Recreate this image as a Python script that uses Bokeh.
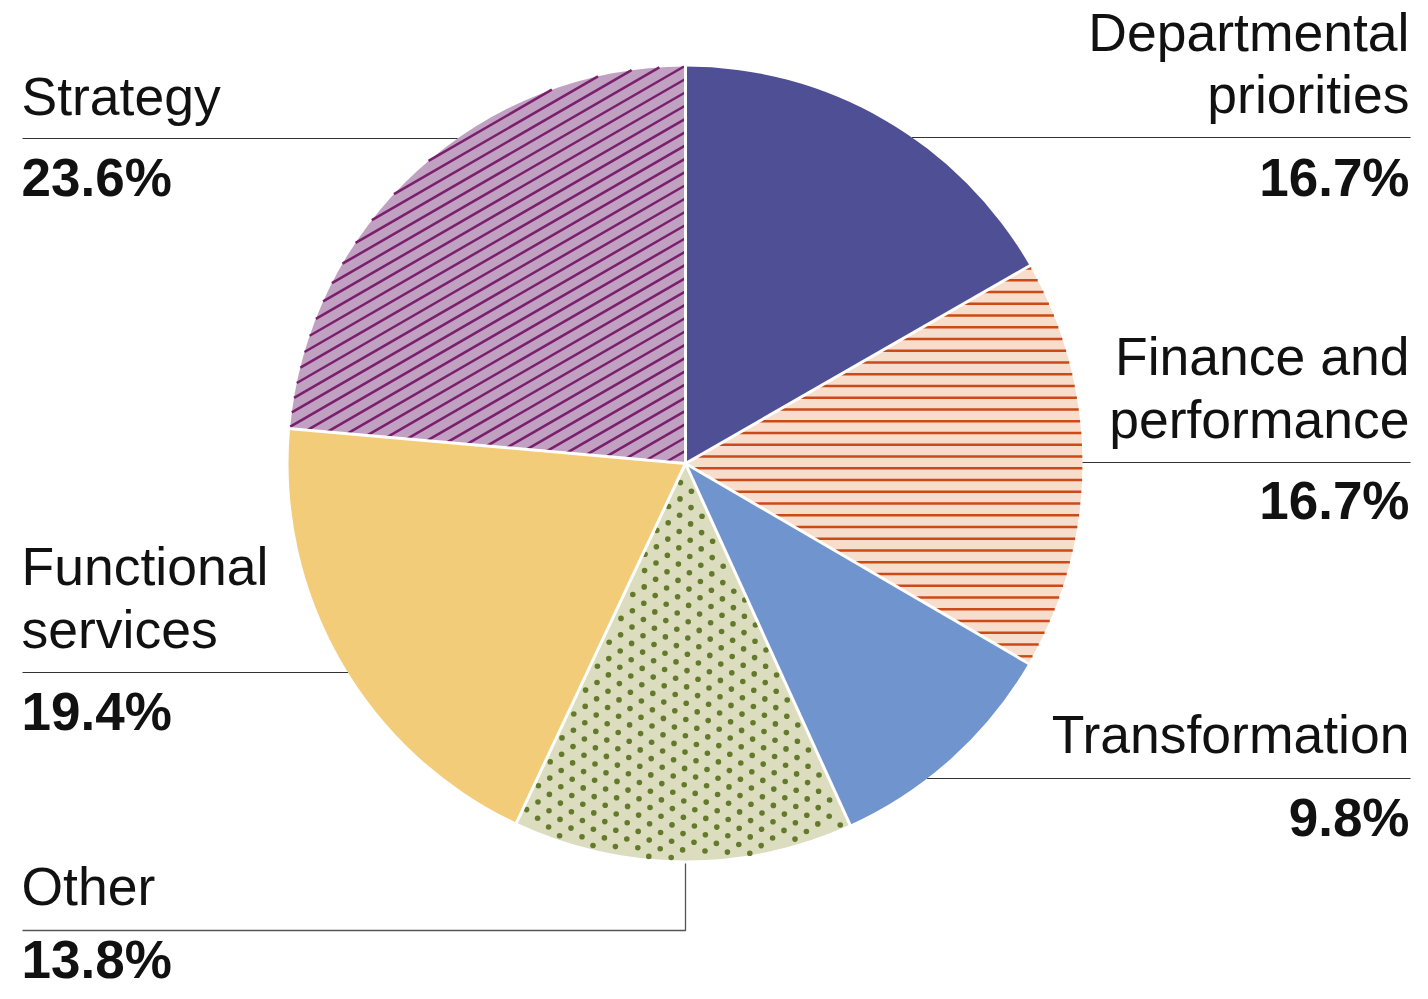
import numpy as np
from bokeh.plotting import figure
from bokeh.models import Range1d
from bokeh.embed import file_html
from bokeh.resources import INLINE
from bokeh.core.properties import value

# ---------------- data ----------------
categories = ["Departmental priorities", "Finance and performance", "Transformation",
              "Other", "Functional services", "Strategy"]
label_lines = [["Departmental", "priorities"], ["Finance and", "performance"], ["Transformation"],
               ["Other"], ["Functional", "services"], ["Strategy"]]
shares = [16.7, 16.7, 9.8, 13.8, 19.4, 23.6]
value_labels = [f"{v:.1f}%" for v in shares]

# ---------------- styles ----------------
fills = ["#4E4F95", "#F7DDCC", "#7095CE", "#DCDCBF", "#F3CC7A", "#C1A1C2"]
patterns = [None, "hline", None, "dots", None, "diag"]
pattern_colors = [None, "#CC4A17", None, "#627A2A", None, "#7A1F6B"]

# layout (image pixel coordinates, y downward)
side = ["R", "R", "R", "L", "L", "L"]
label_baselines = [[53, 115], [377, 440], [755], [907], [587, 650], [117]]
rule_y = [137, 462, 778, 930, 672, 138]
value_baseline = [198, 521, 838, 980, 732, 198]
LEFT_X, RIGHT_X = 22, 1409
LABEL_PX, VALUE_PX = 53.5, 53.0
BASE_FIX = 0.39   # empirical correction of the svg text baseline

W, H = 1412, 983
IMG_H = 999


def Y(yimg):
    return IMG_H - yimg


CX, CY_IMG, R = 685.0, 463.0, 397.0
CY = Y(CY_IMG)

p = figure(width=W, height=H, output_backend="svg", toolbar_location=None,
           x_range=Range1d(0, W), y_range=Range1d(IMG_H - H, IMG_H),
           min_border=0, x_axis_location=None, y_axis_location=None)
p.outline_line_color = None
p.xgrid.visible = False
p.ygrid.visible = False
p.background_fill_color = "white"
p.border_fill_color = "white"

fr = np.array(shares) / sum(shares)
cum = np.concatenate([[0.0], np.cumsum(fr)])
a0 = 2 * np.pi * cum[:-1]   # clockwise from 12 o'clock
a1 = 2 * np.pi * cum[1:]

p.wedge(x=[CX] * len(shares), y=[CY] * len(shares), radius=R,
        start_angle=list(np.pi / 2 - a0), end_angle=list(np.pi / 2 - a1),
        direction="clock", fill_color=fills, line_color=None)


def theta(x, y):
    return np.mod(np.pi / 2 - np.arctan2(y - CY, x - CX), 2 * np.pi)


def inside(x, y, s, e, margin=0.0):
    r = np.hypot(x - CX, y - CY)
    th = theta(x, y)
    rr = np.maximum(r, 1e-6)
    return (r <= R - margin) & (th >= s + margin / rr) & (th <= e - margin / rr)


def clip_family(direction, normal, offsets, s, e):
    d = np.array(direction, float)
    d /= np.linalg.norm(d)
    n = np.array(normal, float)
    n /= np.linalg.norm(n)
    t = np.arange(-R - 5, R + 5, 0.2)
    x0s, y0s, x1s, y1s = [], [], [], []
    for c in offsets:
        px = CX + c * n[0] + t * d[0]
        py = CY + c * n[1] + t * d[1]
        m = inside(px, py, s, e)
        if m.sum() < 2:
            continue
        idx = np.where(m)[0]
        x0s.append(px[idx[0]]); y0s.append(py[idx[0]])
        x1s.append(px[idx[-1]]); y1s.append(py[idx[-1]])
    return x0s, y0s, x1s, y1s


for i, pat in enumerate(patterns):
    s, e = a0[i], a1[i]
    if pat == "hline":
        spacing = 11.75
        ref = Y(350.3) - CY
        ks = np.arange(-40, 41)
        offs = ref + ks * spacing
        offs = offs[np.abs(offs) < R]
        x0, y0, x1, y1 = clip_family((1, 0), (0, 1), offs, s, e)
        p.segment(x0=x0, y0=y0, x1=x1, y1=y1, line_color=pattern_colors[i], line_width=2.4)
    elif pat == "diag":
        ang = np.deg2rad(30)
        d = (np.cos(ang), np.sin(ang))
        n = (-np.sin(ang), np.cos(ang))
        refx, refy = 291.7, Y(425.0)
        ref = (refx - CX) * n[0] + (refy - CY) * n[1]
        spacing = 11.5
        ks = np.arange(-80, 81)
        offs = ref + ks * spacing
        offs = offs[np.abs(offs) < R]
        x0, y0, x1, y1 = clip_family(d, n, offs, s, e)
        p.segment(x0=x0, y0=y0, x1=x1, y1=y1, line_color=pattern_colors[i], line_width=2.5)
    elif pat == "dots":
        ax, ay = 22.4, -1.1
        bx, by = 11.0, -8.7
        ox, oy = 643.3, Y(602.7)
        ii, jj = np.meshgrid(np.arange(-60, 61), np.arange(-80, 81))
        px = ox + ii * ax + jj * bx
        py = oy + ii * ay + jj * by
        px, py = px.ravel(), py.ravel()
        m = inside(px, py, s, e, margin=2.0)
        p.scatter(x=px[m], y=py[m], marker="circle", size=5.6,
                  fill_color=pattern_colors[i], line_color=None)

# white separators between slices
bx0 = [CX] * len(shares)
by0 = [CY] * len(shares)
bx1 = list(CX + (R + 2) * np.sin(a0))
by1 = list(CY + (R + 2) * np.cos(a0))
p.segment(x0=bx0, y0=by0, x1=bx1, y1=by1, line_color="white", line_width=3)

# labels, rules and values
FONT = value("Liberation Sans")
for i in range(len(categories)):
    ry = rule_y[i]
    dy = abs(ry - CY_IMG)
    if side[i] == "R":
        tx, align = RIGHT_X, "right"
        edge = CX + np.sqrt(max(R * R - dy * dy, 0.0))
        p.line(x=[edge, RIGHT_X + 1], y=[Y(ry), Y(ry)], line_color="#333333", line_width=1.2)
    else:
        tx, align = LEFT_X - 1, "left"
        if ry > CY_IMG + R:
            p.line(x=[LEFT_X, CX, CX], y=[Y(ry), Y(ry), Y(CY_IMG + R + 3)],
                   line_color="#555555", line_width=1.3)
        else:
            edge = CX - np.sqrt(max(R * R - dy * dy, 0.0))
            p.line(x=[LEFT_X, edge], y=[Y(ry), Y(ry)], line_color="#333333", line_width=1.2)
    for txt, bl in zip(label_lines[i], label_baselines[i]):
        p.text(x=[tx], y=[Y(bl - BASE_FIX * LABEL_PX)], text=[txt], text_align=align,
               text_baseline="alphabetic", text_font=FONT,
               text_font_size=f"{LABEL_PX}px", text_color="#111111")
    p.text(x=[tx], y=[Y(value_baseline[i] - BASE_FIX * VALUE_PX)], text=[value_labels[i]],
           text_align=align, text_baseline="alphabetic", text_font=FONT,
           text_font_size=f"{VALUE_PX}px", text_font_style="bold", text_color="#111111")

open("out.html", "w").write(file_html(p, INLINE))
